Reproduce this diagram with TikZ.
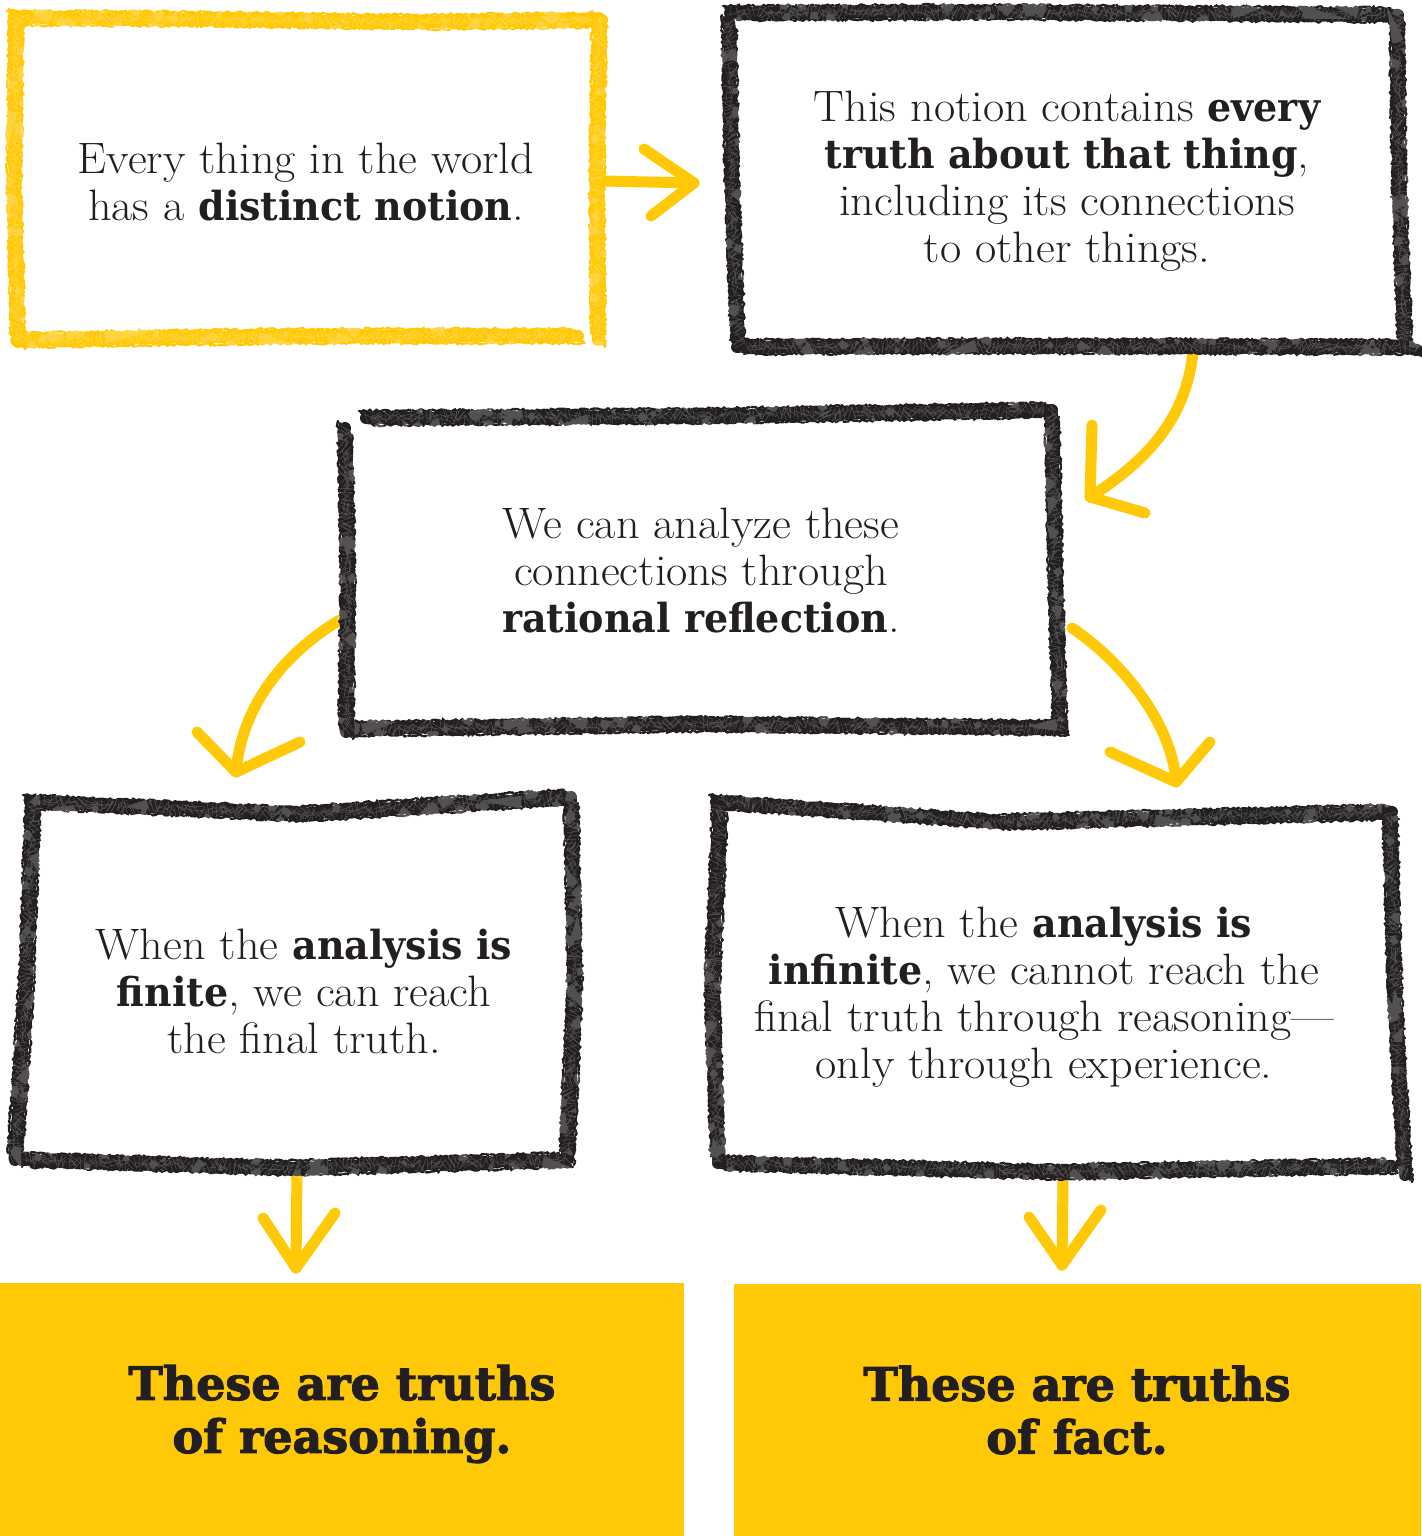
\documentclass[tikz,border=0pt]{standalone}
\usepackage{fontspec}
\usetikzlibrary{decorations.pathmorphing}
\setmainfont{Latin Modern Roman}[FakeStretch=1.05]
\newfontfamily\slab[FakeStretch=0.95]{DejaVu Serif}
\newfontfamily\slabheavy[BoldFeatures={FakeBold=2.5}]{DejaVu Serif}
\definecolor{ink}{HTML}{231F20}
\definecolor{gold}{HTML}{FFC907}
\newcommand\bsl[1]{{\slab\bfseries\fontsize{40}{47}\selectfont #1}}
\pgfmathsetseed{4711}
\tikzset{
  crayoncore/.style={draw=#1, line width=12pt, line cap=round, line join=round,
    decorate, decoration={random steps, segment length=4pt, amplitude=1pt}},
  crayonstreak/.style={draw=#1, line width=2.4pt, line cap=round,
    dash pattern=on 9pt off 1.5pt on 3pt off 2pt on 5pt off 1pt,
    decorate, decoration={random steps, segment length=2.5pt, amplitude=1.2pt}},
  crayongrain/.style={draw=white, line width=12pt, opacity=0.22,
    dash pattern=on 0.5pt off 3.5pt,
    decorate, decoration={random steps, segment length=2pt, amplitude=4pt}},
  txt/.style={align=center, text=ink, inner sep=0pt, font=\fontsize{44}{47}\selectfont},
  bigtxt/.style={align=center, text=ink, inner sep=0pt,
    font=\slabheavy\bfseries\fontsize{46}{53}\selectfont},
  yarrow/.style={draw=gold, line width=11pt, line cap=round, line join=round},
  panel/.style={fill=gold, draw=none},
}
% one crayon stroke: solid core, loose streaks along its edges, paper grain on top
\newcommand\crayon[2]{%
  \draw[crayoncore=#1] #2;
  \foreach \d in {-7,-5,5,7}{\draw[crayonstreak=#1, shift={(\d,\d)}] #2;}
  \draw[crayongrain] #2;
}
\begin{document}
\begin{tikzpicture}[x=1pt,y=-1pt]
\useasboundingbox (0,0) rectangle (1421,1536);
\fill[white] (0,0) rectangle (1421,1536);

% ---------- result panels ----------
\fill[panel] (0,1283) rectangle (684,1536);
\fill[panel] (734,1284) rectangle (1421,1536);

% ---------- arrow ends ----------
\coordinate (ab0) at (603,181);  \coordinate (ab1) at (694,183);
\coordinate (abL) at (644,149);  \coordinate (abR) at (651,216);
\coordinate (bc0) at (1193,352); \coordinate (bc1) at (1090,497);
\coordinate (bcL) at (1092,425); \coordinate (bcR) at (1145,513);
\coordinate (cd0) at (340,620);  \coordinate (cd1) at (236,772);
\coordinate (cdL) at (197,732);  \coordinate (cdR) at (300,742);
\coordinate (ce0) at (1072,628); \coordinate (ce1) at (1176,782);
\coordinate (ceL) at (1110,752); \coordinate (ceR) at (1210,742);
\coordinate (df0) at (297,1170); \coordinate (df1) at (296,1268);
\coordinate (dfL) at (263,1218); \coordinate (dfR) at (335,1213);
\coordinate (eg0) at (1063,1180); \coordinate (eg1) at (1062,1265);
\coordinate (egL) at (1029,1217); \coordinate (egR) at (1101,1210);

% ---------- arrows ----------
\draw[yarrow] (ab0) -- (ab1);
\draw[yarrow] (abL) -- (ab1) -- (abR);
\draw[yarrow] (bc0) .. controls (1186,420) and (1145,462) .. (bc1);
\draw[yarrow] (bcL) -- (bc1) -- (bcR);
\draw[yarrow] (cd0) .. controls (292,648) and (242,700) .. (cd1);
\draw[yarrow] (cdL) -- (cd1) -- (cdR);
\draw[yarrow] (ce0) .. controls (1120,660) and (1172,722) .. (ce1);
\draw[yarrow] (ceL) -- (ce1) -- (ceR);
\draw[yarrow] (df0) -- (df1);
\draw[yarrow] (dfL) -- (df1) -- (dfR);
\draw[yarrow] (eg0) -- (eg1);
\draw[yarrow] (egL) -- (eg1) -- (egR);

% ---------- first box (yellow crayon) ----------
\crayon{gold}{(14,18) -- (200,19) -- (420,22) -- (602,20)}
\crayon{gold}{(599,18) -- (597,180) -- (598,340)}
\crayon{gold}{(16,340) -- (300,336) -- (578,336)}
\crayon{gold}{(16,16) -- (14,180) -- (18,342)}

% ---------- second box ----------
\crayon{ink}{(730,13) -- (1000,12) -- (1398,15)}
\crayon{ink}{(1397,15) -- (1399,180) -- (1405,345) -- (1417,350)}
\crayon{ink}{(737,347) -- (1000,346) -- (1410,347)}
\crayon{ink}{(729,22) -- (732,180) -- (738,346)}

% ---------- third box ----------
\crayon{ink}{(366,418) -- (700,416) -- (1050,410)}
\crayon{ink}{(1052,410) -- (1055,560) -- (1060,728)}
\crayon{ink}{(346,729) -- (700,724) -- (1062,728)}
\crayon{ink}{(345,428) -- (348,580) -- (346,732)}

% ---------- fourth box ----------
\crayon{ink}{(30,802) -- (300,814) -- (571,797)}
\crayon{ink}{(571,799) -- (575,980) -- (567,1158)}
\crayon{ink}{(24,1160) -- (290,1168) -- (566,1160)}
\crayon{ink}{(33,803) -- (26,990) -- (15,1160)}

% ---------- fifth box ----------
\crayon{ink}{(716,802) -- (1000,822) -- (1392,812)}
\crayon{ink}{(1390,813) -- (1395,1000) -- (1405,1175)}
\crayon{ink}{(718,1163) -- (1050,1172) -- (1392,1166)}
\crayon{ink}{(720,806) -- (712,990) -- (718,1162)}

% ---------- texts ----------
\node[txt] (tA) at (306,182) {Every thing in the world\\has a \bsl{distinct notion}.};
\node[txt] (tB) at (1067,181) {This notion contains \bsl{every}\\\bsl{truth about that thing},\\including its connections\\to other things.};
\node[txt] (tC) at (701,571) {We can analyze these\\connections through\\\bsl{rational reflection}.};
\node[txt] (tD) at (304,991) {When the \bsl{analysis is}\\\bsl{finite}, we can reach\\the final truth.};
\node[txt] (tE) at (1044,997) {When the \bsl{analysis is}\\\bsl{infinite}, we cannot reach the\\final truth through reasoning---\\only through experience.};
\node[bigtxt] (tF) at (342,1414) {These are truths\\of reasoning.};
\node[bigtxt] (tG) at (1077,1410) {These are truths\\of fact.};
\end{tikzpicture}
\end{document}
